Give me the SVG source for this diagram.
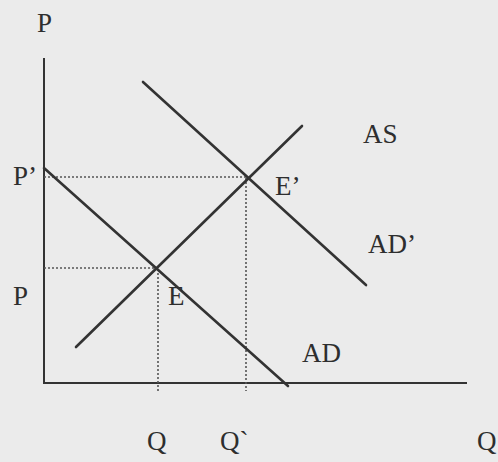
<svg xmlns="http://www.w3.org/2000/svg" width="498" height="462" viewBox="0 0 498 462">
<style>
.lbl{font-family:"Liberation Serif","Times New Roman",serif;font-size:27px;fill:#2e2e2e}
.axis{stroke:#333;stroke-width:2;fill:none}
.curve{stroke:#333;stroke-width:2.6;fill:none;stroke-linecap:round}
.dot{stroke:#555;stroke-width:1.6;stroke-dasharray:2 2;fill:none}
</style>
<rect width="498" height="462" fill="#ebebeb"/>
<g id="axes">
<line class="axis" x1="44" y1="58" x2="44" y2="383"/>
<line class="axis" x1="43" y1="383" x2="467" y2="383"/>
<text class="lbl" x="37" y="32">P</text>
<text class="lbl" x="477" y="450">Q</text>
</g>
<g id="connectors">
<line class="dot" x1="44" y1="177" x2="248" y2="177"/>
<line class="dot" x1="44" y1="268" x2="154" y2="268"/>
<line class="dot" x1="158" y1="269" x2="158" y2="391"/>
<line class="dot" x1="246" y1="178" x2="246" y2="391"/>
</g>
<g id="AS">
<line class="curve" x1="76" y1="347" x2="302" y2="126"/>
<text class="lbl" x="363" y="143">AS</text>
</g>
<g id="AD">
<line class="curve" x1="44" y1="168" x2="288" y2="386"/>
<text class="lbl" x="302" y="362">AD</text>
</g>
<g id="ADprime">
<line class="curve" x1="143" y1="82" x2="366" y2="285"/>
<text class="lbl" x="368" y="253">AD’</text>
</g>
<g id="E">
<text class="lbl" x="168" y="305">E</text>
</g>
<g id="Eprime">
<text class="lbl" x="275" y="195">E’</text>
</g>
<g id="ticks">
<text class="lbl" x="13" y="185">P’</text>
<text class="lbl" x="13" y="305">P</text>
<text class="lbl" x="147" y="450">Q</text>
<text class="lbl" x="220" y="450">Q`</text>
</g>
</svg>
